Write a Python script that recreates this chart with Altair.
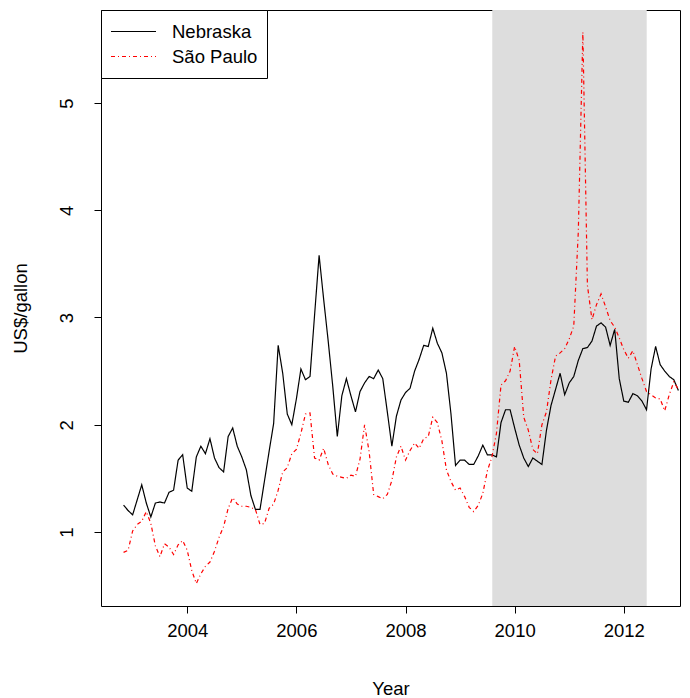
import altair as alt
import pandas as pd

# Monthly series, Nov 2002 .. Jan 2013 (US$/gallon)
start_year = 2002 + 10 / 12
nebraska = [1.25, 1.20, 1.16, 1.30, 1.44, 1.27, 1.14, 1.27, 1.28, 1.27,
            1.37, 1.39, 1.67, 1.72, 1.41, 1.38, 1.70, 1.80, 1.73, 1.87,
            1.69, 1.60, 1.56, 1.89, 1.97, 1.80, 1.70, 1.58, 1.34, 1.21,
            1.21, 1.48, 1.75, 2.01, 2.74, 2.48, 2.10, 2.00, 2.24, 2.52,
            2.42, 2.45, 3.02, 3.58, 3.17, 2.78, 2.36, 1.89, 2.27, 2.43,
            2.27, 2.12, 2.31, 2.39, 2.45, 2.43, 2.51, 2.43, 2.12, 1.80,
            2.08, 2.23, 2.30, 2.34, 2.50, 2.61, 2.74, 2.73, 2.90, 2.76,
            2.67, 2.48, 2.10, 1.62, 1.67, 1.67, 1.63, 1.63, 1.71, 1.81,
            1.72, 1.72, 1.70, 2.02, 2.14, 2.14, 1.97, 1.81, 1.69, 1.61,
            1.69, 1.66, 1.63, 1.95, 2.18, 2.33, 2.48, 2.28, 2.39, 2.45,
            2.60, 2.71, 2.72, 2.78, 2.92, 2.95, 2.91, 2.74, 2.89, 2.43,
            2.22, 2.21, 2.29, 2.27, 2.22, 2.14, 2.52, 2.73, 2.56, 2.50,
            2.45, 2.42, 2.32]
sao_paulo = [0.81, 0.83, 1.01, 1.07, 1.10, 1.19, 1.08, 0.87, 0.77, 0.89,
             0.86, 0.79, 0.88, 0.92, 0.83, 0.64, 0.52, 0.61, 0.68, 0.72,
             0.82, 0.95, 1.05, 1.22, 1.32, 1.26, 1.24, 1.24, 1.23, 1.21,
             1.07, 1.08, 1.22, 1.26, 1.39, 1.56, 1.60, 1.73, 1.77, 1.92,
             2.10, 2.11, 1.69, 1.67, 1.78, 1.63, 1.54, 1.52, 1.51, 1.50,
             1.53, 1.52, 1.68, 2.00, 1.75, 1.35, 1.33, 1.31, 1.35, 1.48,
             1.70, 1.80, 1.67, 1.76, 1.83, 1.78, 1.87, 1.89, 2.07, 2.02,
             1.85, 1.58, 1.47, 1.39, 1.41, 1.33, 1.23, 1.19, 1.25, 1.36,
             1.57, 1.70, 1.92, 2.37, 2.41, 2.50, 2.73, 2.60, 2.07, 1.95,
             1.77, 1.73, 2.00, 2.12, 2.42, 2.64, 2.67, 2.71, 2.80, 2.92,
             3.80, 5.66, 3.30, 2.98, 3.12, 3.22, 3.10, 2.97, 2.91, 2.81,
             2.70, 2.62, 2.69, 2.56, 2.43, 2.31, 2.28, 2.25, 2.24, 2.13,
             2.28, 2.40, 2.33]
series_names = ["Nebraska", "São Paulo"]
shade_start = [2009.59]
shade_end = [2012.42]
x_ticks = [2004, 2006, 2008, 2010, 2012]
y_ticks = [1, 2, 3, 4, 5]

years = [start_year + i / 12 for i in range(len(nebraska))]
df = pd.concat([
    pd.DataFrame({"year": years, "price": nebraska, "series": series_names[0]}),
    pd.DataFrame({"year": years, "price": sao_paulo, "series": series_names[1]}),
])
shade_df = pd.DataFrame({"start": shade_start, "end": shade_end})

FONT = "Liberation Sans"
FS = 18.5
x_scale = alt.Scale(domain=[2002.42, 2013.03], nice=False, zero=False)
y_scale = alt.Scale(domain=[0.31, 5.867], nice=False, zero=False)

shade = alt.Chart(shade_df).mark_rect(color="#DDDDDD").encode(
    x=alt.X("start:Q", scale=x_scale),
    x2="end:Q",
)

lines = alt.Chart(df).mark_line(strokeWidth=1.2, clip=True).encode(
    x=alt.X("year:Q", scale=x_scale,
            axis=alt.Axis(title="Year", values=x_ticks, format="d", grid=False,
                          domain=False, tickColor="black", tickSize=7,
                          labelFontSize=FS, labelColor="black", labelPadding=8,
                          labelFont=FONT, titleFont=FONT, titleFontSize=FS,
                          titleFontWeight="normal", titleColor="black",
                          titleY=82, titleBaseline="middle")),
    y=alt.Y("price:Q", scale=y_scale,
            axis=alt.Axis(title="US$/gallon", values=y_ticks, grid=False,
                          domain=False, tickColor="black", tickSize=7,
                          labelFontSize=FS, labelColor="black", labelAngle=270,
                          labelAlign="center", labelBaseline="alphabetic",
                          labelPadding=22, labelFont=FONT, titleFont=FONT,
                          titleFontSize=FS, titleFontWeight="normal",
                          titleColor="black", titleX=-81, titleBaseline="middle")),
    color=alt.Color("series:N",
                    scale=alt.Scale(domain=series_names, range=["black", "red"]),
                    legend=alt.Legend(title=None)),
    strokeDash=alt.StrokeDash("series:N",
                              scale=alt.Scale(domain=series_names,
                                              range=[[1, 0], [4, 3, 1, 3]]),
                              legend=alt.Legend(title=None)),
)

chart = alt.layer(shade, lines).properties(
    width=579, height=596,
    autosize=alt.AutoSizeParams(type="none"),
    padding={"left": 93, "top": 2, "right": 2, "bottom": 92},
).configure_view(
    stroke="black", strokeWidth=1
).configure_legend(
    orient="top-left", offset=0, padding=9, fillColor="white",
    strokeColor="black", symbolType="stroke", symbolSize=2025,
    symbolStrokeWidth=1.2, labelFontSize=FS, labelFont=FONT,
    labelColor="black", labelOffset=15, rowPadding=0, clipHeight=25,
    labelLimit=300,
)

chart.save("out.html", embed_options={"renderer": "svg", "actions": False})
